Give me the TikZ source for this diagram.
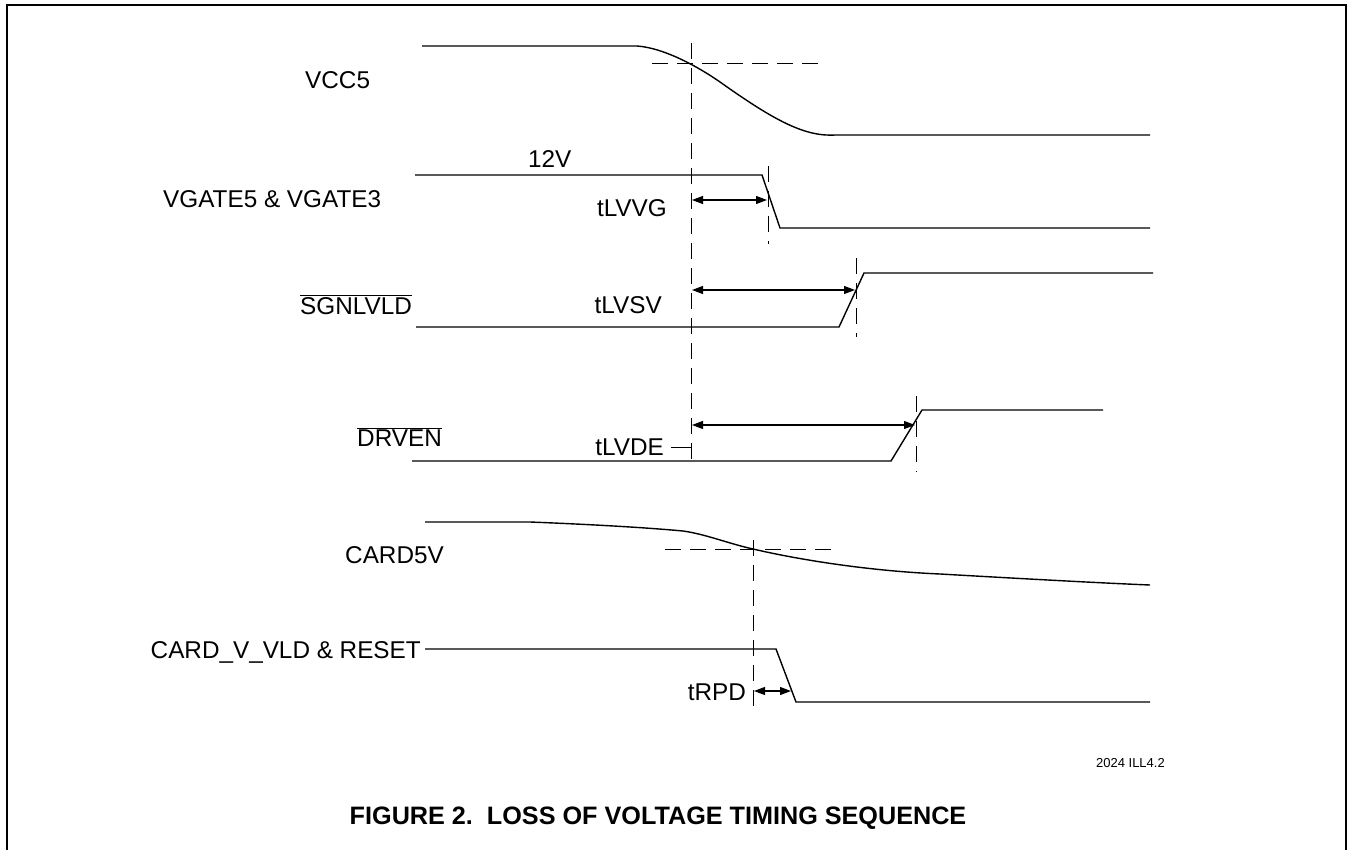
\documentclass[tikz,border=0pt]{standalone}
\usepackage{fontspec}
\setmainfont{Liberation Sans}
\usetikzlibrary{arrows.meta}
\newcommand{\ovl}[1]{\ensuremath{\overline{\mbox{#1}}}}
\begin{document}
\begin{tikzpicture}[x=1pt,y=-1pt,
  sig/.style={line width=1.4pt, line join=miter},
  dsh/.style={line width=1pt, dash pattern=on 16pt off 9pt},
  dim/.style={line width=1.1pt, {Triangle[length=11pt,width=8pt]}-{Triangle[length=11pt,width=8pt]}},
  lbl/.style={inner sep=0pt, font=\fontsize{24.3}{28}\selectfont},
  small/.style={inner sep=0pt, font=\fontsize{13}{15}\selectfont},
  ttl/.style={inner sep=0pt, font=\fontsize{25.2}{29}\selectfont\bfseries}]
\useasboundingbox (0,0) rectangle (1348,850);
% frame
\draw[line width=2.2pt] (7,851) -- (7,5) -- (1346,5) -- (1346,851);

% labels
\node[lbl, anchor=base west] (lvcc) at (305,89) {VCC5};
\node[lbl, anchor=base west] (lvg) at (163,208) {VGATE5 \& VGATE3};
\node[lbl, anchor=base west] (l12) at (528,168) {12V};
\node[lbl, anchor=base west] (lsg) at (300,314) {\ovl{SGNLVLD}};
\node[lbl, anchor=base west] (ldr) at (357,446) {\ovl{DRVEN}};
\node[lbl, anchor=base west] (lc5) at (345,563) {CARD5V};
\node[lbl, anchor=base east] (lcv) at (421,658) {CARD\_V\_VLD \& RESET};
\node[lbl, anchor=base east] (tvg) at (667,217) {tLVVG};
\node[lbl, anchor=base east] (tsv) at (662,313) {tLVSV};
\node[lbl, anchor=base east] (tde) at (664,455) {tLVDE};
\node[lbl, anchor=base east] (trp) at (746,700) {tRPD};
\node[small, anchor=base east] (fid) at (1165,767) {2024 ILL4.2};
\node[ttl, anchor=base] (title) at (658,824) {FIGURE 2.\ \ LOSS OF VOLTAGE TIMING SEQUENCE};

% reference dashed lines
\coordinate (m1) at (691,43);
\coordinate (m2) at (691,462);
\draw[dsh] (m1) -- (m2);
\coordinate (h1) at (652,64);
\coordinate (h2) at (822,64);
\draw[dsh] (h1) -- (h2);
\coordinate (c1) at (753,540);
\coordinate (c2) at (753,710);
\draw[dsh] (c1) -- (c2);
\coordinate (c3) at (665,549);
\coordinate (c4) at (835,549);
\draw[dsh] (c3) -- (c4);
\coordinate (g1) at (768,166);
\coordinate (g2) at (768,244);
\draw[dsh] (g1) -- (g2);
\coordinate (s1) at (856,258);
\coordinate (s2) at (856,337);
\draw[dsh] (s1) -- (s2);
\coordinate (d1) at (916,396);
\coordinate (d2) at (916,472);
\draw[dsh] (d1) -- (d2);

% VCC5
\draw[sig] (422,46) -- (637,46) .. controls (665,48) and (700,68) .. (720,82)
  .. controls (775,121) and (805,137) .. (836,135) -- (1150,135);
% VGATE
\draw[sig] (415,175) -- (762,175) -- (780,228) -- (1150,228);
% SGNLVLD
\draw[sig] (416,327) -- (839,327) -- (864,273) -- (1153,273);
% DRVEN
\draw[sig] (412,461) -- (891,461) -- (922,410) -- (1103,410);
% CARD5V
\draw[sig] (425,522) -- (530,522) .. controls (580,524) and (640,527) .. (683,531)
  .. controls (705,534) and (730,544) .. (753,549)
  .. controls (800,560) and (870,571) .. (940,574)
  .. controls (1010,578) and (1100,583) .. (1150,585);
% CARD_V_VLD
\coordinate (cvs) at (425,649);
\draw[sig] (cvs) -- (776,649) -- (796,702) -- (1150,702);

% dimension arrows
\coordinate (a1) at (692,200); \coordinate (a2) at (767,200);
\draw[dim] (a1) -- (a2);
\coordinate (b1) at (692,290); \coordinate (b2) at (855,290);
\draw[dim] (b1) -- (b2);
\coordinate (e1) at (692,425); \coordinate (e2) at (915,425);
\draw[dim] (e1) -- (e2);
\coordinate (r1) at (754,691); \coordinate (r2) at (791,691);
\draw[dim] (r1) -- (r2);
% tick after tLVDE
\coordinate (k1) at (671,447);
\draw[line width=1pt] (k1) -- (m1 |- k1);
\end{tikzpicture}
\end{document}
